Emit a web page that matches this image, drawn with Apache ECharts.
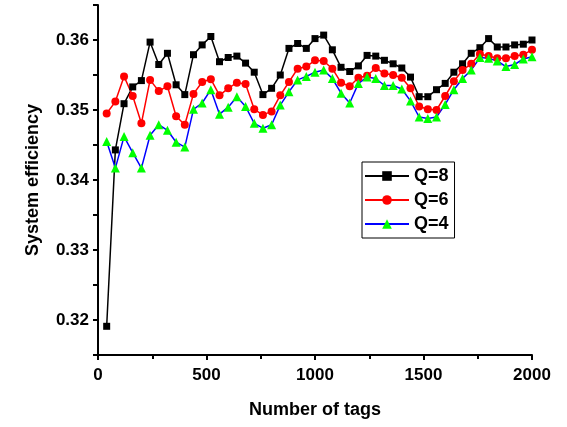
<!DOCTYPE html>
<html>
<head>
<meta charset="utf-8">
<script src="https://cdn.jsdelivr.net/npm/echarts@6/dist/echarts.min.js"></script>
<style>html,body{margin:0;padding:0;background:#fff}#c{width:567px;height:427px}</style>
</head>
<body>
<div id="c"></div>
<script>
var tags = [40,80,120,160,200,240,280,320,360,400,440,480,520,560,600,640,680,720,760,800,840,880,920,960,1000,1040,1080,1120,1160,1200,1240,1280,1320,1360,1400,1440,1480,1520,1560,1600,1640,1680,1720,1760,1800,1840,1880,1920,1960,2000];
var q8 = [0.3191,0.3443,0.3509,0.3533,0.3542,0.3597,0.3565,0.3581,0.3536,0.3522,0.3579,0.3593,0.3605,0.3569,0.3575,0.3577,0.3567,0.3554,0.3522,0.3531,0.3550,0.3588,0.3595,0.3588,0.3602,0.3607,0.3586,0.3561,0.3555,0.3563,0.3578,0.3577,0.3571,0.3566,0.3560,0.3547,0.3519,0.3519,0.3529,0.3538,0.3554,0.3566,0.3581,0.3589,0.3602,0.3590,0.3590,0.3593,0.3594,0.3600];
var q6 = [0.3495,0.3512,0.3548,0.3520,0.3481,0.3543,0.3527,0.3534,0.3491,0.3479,0.3523,0.3540,0.3544,0.3521,0.3531,0.3539,0.3537,0.3501,0.3493,0.3498,0.3521,0.3540,0.3559,0.3562,0.3571,0.3570,0.3559,0.3539,0.3534,0.3546,0.3549,0.3560,0.3552,0.3550,0.3546,0.3531,0.3505,0.3501,0.3500,0.3520,0.3541,0.3557,0.3566,0.3580,0.3577,0.3574,0.3574,0.3577,0.3579,0.3586];
var q4 = [0.3455,0.3417,0.3462,0.3439,0.3417,0.3464,0.3479,0.3471,0.3454,0.3447,0.3501,0.3510,0.3529,0.3494,0.3504,0.3519,0.3505,0.3481,0.3474,0.3479,0.3507,0.3526,0.3543,0.3548,0.3554,0.3557,0.3545,0.3524,0.3510,0.3538,0.3547,0.3545,0.3535,0.3535,0.3530,0.3513,0.3490,0.3488,0.3490,0.3508,0.3529,0.3545,0.3557,0.3575,0.3574,0.3570,0.3562,0.3565,0.3573,0.3576];
var seriesNames = ['Q=8','Q=6','Q=4'];

function pairs(ys){ return tags.map(function(t,i){ return [t, ys[i]]; }); }

var chart = echarts.init(document.getElementById('c'));
var font = 'Liberation Sans, Arial, sans-serif';
var axisLine = {show:true, lineStyle:{color:'#000', width:2}};
chart.setOption({
  animation:false,
  backgroundColor:'#fff',
  grid:{left:98, right:35, top:5, bottom:72},
  xAxis:{
    type:'value', min:0, max:2000, interval:500,
    name:'Number of tags', nameLocation:'middle', nameGap:46,
    nameTextStyle:{fontFamily:font, fontWeight:'bold', fontSize:18, color:'#000'},
    axisLine:axisLine,
    axisTick:{show:true, inside:false, length:5, lineStyle:{color:'#000', width:2}},
    minorTick:{show:true, splitNumber:2, length:4, lineStyle:{color:'#000', width:2}},
    axisLabel:{fontFamily:font, fontWeight:'bold', fontSize:17, color:'#000', margin:12,
      formatter:function(v){ return String(v); }},
    splitLine:{show:false}
  },
  yAxis:{
    type:'value', min:0.315, max:0.365, interval:0.005,
    name:'System efficiency', nameLocation:'middle', nameGap:56,
    nameTextStyle:{fontFamily:font, fontWeight:'bold', fontSize:18, color:'#000'},
    axisLine:axisLine,
    axisTick:{show:true, inside:false, length:5, lineStyle:{color:'#000', width:2}},
    axisLabel:{fontFamily:font, fontWeight:'bold', fontSize:17, color:'#000', margin:9,
      formatter:function(v){ var m=Math.round(v*1000); return (m%10===0)? (m/1000).toFixed(2) : ''; }},
    splitLine:{show:false}
  },
  legend:{
    orient:'vertical', left:362, top:162,
    borderColor:'#000', borderWidth:1, borderRadius:0,
    padding:[5,6,5,2], itemGap:6, itemWidth:44, itemHeight:12,
    textStyle:{fontFamily:font, fontWeight:'bold', fontSize:18, color:'#000'},
    data:seriesNames
  },
  series:[
    {name:seriesNames[0], type:'line', data:pairs(q8), symbol:'rect', symbolSize:7,
     lineStyle:{color:'#000', width:1.5}, itemStyle:{color:'#000'}},
    {name:seriesNames[1], type:'line', data:pairs(q6), symbol:'circle', symbolSize:8,
     lineStyle:{color:'#ff0000', width:1.5}, itemStyle:{color:'#ff0000'}},
    {name:seriesNames[2], type:'line', data:pairs(q4), symbol:'triangle', symbolSize:9,
     lineStyle:{color:'#0000ff', width:1.5}, itemStyle:{color:'#00ff00'}}
  ]
});
</script>
</body>
</html>
